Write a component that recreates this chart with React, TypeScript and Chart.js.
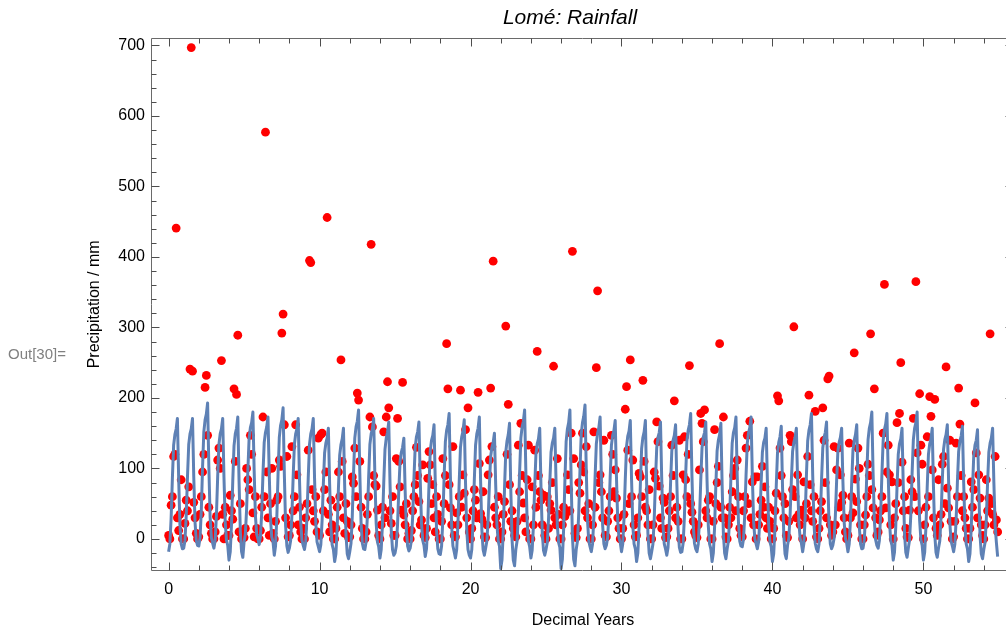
import React, { useEffect, useRef } from "react";
import { Chart, registerables } from "chart.js";

Chart.register(...registerables);

// ---------- data (decimal years since start, monthly samples) ----------
const MONTHS = 12;

// monthly precipitation, mm (one row = one year, 12 months)
const rainfall00: number[][] = [
  [5, 0, 48, 60, 117, 120, 441, 30, 12, 35, 84, 0],
  [0, 22, 55, 40, 74, 241, 697, 238, 52, 30, 8, 0],
  [3, 35, 60, 95, 120, 215, 232, 147, 45, 20, 8, 0],
  [0, 10, 32, 112, 129, 100, 253, 35, 0, 45, 20, 5],
  [5, 62, 40, 28, 213, 110, 205, 289, 10, 50, 0, 8],
  [2, 15, 100, 84, 70, 147, 120, 37, 3, 60, 15, 0],
  [0, 12, 45, 173, 60, 577, 95, 30, 5, 50, 100, 8],
  [0, 25, 55, 60, 112, 103, 292, 319, 162, 30, 117, 3],
  [5, 20, 131, 40, 60, 162, 91, 20, 45, 10, 0, 15],
  [0, 30, 50, 126, 395, 392, 70, 40, 25, 60, 10, 143],
];
const rainfall10: number[][] = [
  [5, 148, 150, 40, 70, 95, 456, 35, 10, 55, 20, 0],
  [0, 15, 45, 95, 60, 254, 110, 30, 8, 50, 25, 2],
  [3, 20, 88, 79, 129, 60, 207, 197, 110, 45, 15, 0],
  [0, 10, 35, 60, 173, 418, 159, 90, 77, 75, 41, 5],
  [0, 20, 45, 152, 30, 173, 223, 186, 40, 22, 60, 5],
  [5, 114, 171, 110, 74, 41, 222, 34, 20, 50, 0, 8],
  [0, 12, 40, 60, 77, 130, 90, 53, 20, 27, 105, 5],
  [2, 15, 86, 124, 105, 50, 77, 30, 10, 60, 35, 0],
  [0, 25, 114, 50, 90, 277, 213, 77, 44, 20, 131, 5],
  [3, 37, 20, 60, 211, 45, 91, 65, 155, 30, 186, 10],
];
const rainfall20: number[][] = [
  [0, 15, 40, 70, 55, 30, 208, 107, 36, 28, 67, 3],
  [2, 20, 91, 112, 214, 131, 394, 45, 30, 20, 60, 0],
  [0, 10, 35, 53, 302, 120, 191, 77, 25, 40, 15, 5],
  [3, 25, 133, 67, 164, 90, 51, 30, 10, 84, 133, 0],
  [0, 74, 20, 126, 45, 266, 90, 67, 55, 20, 62, 5],
  [0, 60, 15, 50, 41, 80, 245, 30, 20, 114, 35, 0],
  [0, 20, 45, 32, 37, 91, 70, 40, 150, 408, 114, 8],
  [2, 15, 80, 65, 105, 150, 95, 40, 131, 30, 50, 0],
  [0, 20, 152, 45, 243, 352, 80, 91, 67, 30, 140, 5],
  [3, 25, 40, 60, 147, 120, 67, 98, 58, 30, 15, 0],
];
const rainfall30: number[][] = [
  [0, 15, 35, 184, 216, 126, 50, 254, 60, 112, 20, 3],
  [5, 30, 93, 88, 60, 225, 110, 45, 40, 20, 70, 0],
  [0, 20, 95, 86, 166, 138, 75, 30, 15, 58, 52, 2],
  [3, 15, 40, 60, 133, 90, 196, 30, 45, 25, 140, 0],
  [0, 91, 145, 84, 60, 120, 246, 50, 38, 25, 10, 5],
  [2, 20, 98, 178, 164, 138, 183, 40, 30, 55, 60, 0],
  [0, 25, 155, 50, 80, 103, 277, 45, 30, 173, 30, 3],
  [0, 20, 45, 30, 67, 90, 100, 40, 112, 60, 15, 5],
  [3, 40, 60, 129, 147, 50, 167, 30, 81, 20, 88, 0],
  [88, 20, 35, 55, 103, 45, 74, 30, 15, 45, 25, 0],
];
const rainfall40: number[][] = [
  [0, 15, 40, 65, 203, 196, 129, 90, 60, 30, 50, 5],
  [2, 25, 147, 138, 70, 301, 60, 30, 91, 35, 20, 41],
  [0, 81, 30, 50, 117, 204, 77, 40, 25, 60, 181, 3],
  [0, 15, 40, 53, 186, 140, 80, 30, 227, 231, 20, 5],
  [10, 131, 20, 98, 129, 45, 91, 52, 62, 30, 10, 0],
  [5, 136, 30, 60, 37, 264, 85, 53, 129, 100, 20, 0],
  [0, 20, 34, 60, 106, 90, 291, 70, 44, 213, 30, 5],
  [10, 27, 40, 60, 150, 361, 44, 95, 133, 91, 20, 81],
  [0, 30, 50, 165, 80, 178, 250, 109, 40, 60, 15, 3],
  [2, 41, 84, 67, 171, 60, 365, 122, 40, 206, 133, 106],
];
const rainfall50: number[][] = [
  [0, 20, 45, 145, 60, 202, 174, 98, 30, 198, 15, 5],
  [84, 20, 35, 106, 117, 50, 244, 72, 44, 140, 25, 0],
  [3, 25, 136, 60, 214, 163, 90, 40, 60, 30, 15, 0],
  [0, 15, 81, 45, 70, 193, 122, 30, 91, 58, 20, 5],
  [0, 20, 84, 40, 58, 291, 50, 35, 20, 117, 27, 10],
];

// fitted seasonal model, mm (one row = one year, 12 months)
const fit00: number[][] = [
  [-18, -7, 29, 86, 133, 148, 156, 171, 86, 20, -7, -14],
  [-13, -2, 33, 88, 134, 149, 156, 171, 88, 24, -2, -9],
  [-10, 2, 41, 102, 152, 169, 177, 193, 102, 31, 2, -6],
  [-13, -2, 33, 88, 134, 149, 156, 171, 88, 24, -2, -9],
  [-30, -18, 21, 82, 132, 149, 157, 173, 82, 11, -18, -26],
  [-4, 7, 42, 97, 143, 158, 165, 180, 97, 33, 7, 0],
  [-8, 3, 37, 92, 137, 151, 159, 173, 92, 28, 3, -4],
  [-23, -10, 29, 92, 144, 161, 169, 186, 92, 19, -10, -19],
  [-13, -2, 33, 88, 134, 149, 156, 171, 88, 24, -2, -9],
  [-15, -4, 32, 87, 134, 149, 156, 171, 87, 22, -4, -11],
];
const fit10: number[][] = [
  [-18, -8, 26, 78, 122, 136, 143, 157, 78, 17, -8, -15],
  [-32, -21, 15, 72, 119, 134, 142, 157, 72, 6, -21, -28],
  [-18, -6, 32, 93, 143, 159, 167, 183, 93, 22, -6, -14],
  [-15, -4, 32, 87, 134, 149, 156, 171, 87, 22, -4, -11],
  [-27, -15, 21, 79, 127, 143, 151, 166, 79, 12, -15, -23],
  [-20, -10, 21, 70, 110, 123, 130, 143, 70, 13, -10, -17],
  [-13, -2, 32, 85, 130, 145, 152, 166, 85, 23, -2, -9],
  [-25, -14, 22, 78, 125, 140, 147, 162, 78, 12, -14, -21],
  [-22, -10, 28, 88, 138, 154, 162, 178, 88, 18, -10, -18],
  [-27, -15, 22, 81, 130, 145, 153, 169, 81, 12, -15, -23],
];
const fit20: number[][] = [
  [-27, -15, 23, 83, 133, 149, 157, 173, 83, 13, -15, -23],
  [-13, -3, 28, 77, 117, 130, 137, 150, 77, 20, -3, -10],
  [-42, -30, 10, 71, 123, 139, 148, 164, 71, -1, -30, -38],
  [-15, -3, 35, 94, 143, 159, 167, 183, 94, 25, -3, -11],
  [-27, -16, 19, 74, 120, 135, 142, 157, 74, 10, -16, -23],
  [-15, -5, 28, 80, 123, 136, 143, 157, 80, 19, -5, -12],
  [-42, -29, 14, 82, 138, 156, 165, 183, 82, 3, -29, -38],
  [-15, -3, 36, 98, 149, 165, 174, 190, 98, 26, -3, -11],
  [-18, -7, 30, 87, 135, 150, 158, 173, 87, 20, -7, -14],
  [-9, 2, 35, 88, 133, 147, 154, 168, 88, 26, 2, -5],
];
const fit30: number[][] = [
  [-18, -7, 29, 84, 131, 146, 153, 168, 84, 19, -7, -14],
  [-32, -20, 18, 78, 128, 144, 152, 168, 78, 8, -20, -28],
  [-18, -7, 28, 83, 129, 144, 151, 166, 83, 19, -7, -14],
  [-23, -12, 23, 79, 125, 140, 147, 162, 79, 14, -12, -19],
  [-18, -6, 31, 90, 139, 154, 162, 178, 90, 21, -6, -14],
  [-18, -7, 28, 83, 129, 144, 151, 166, 83, 19, -7, -14],
  [-32, -20, 17, 76, 125, 140, 148, 164, 76, 7, -20, -28],
  [-14, -3, 33, 89, 136, 151, 158, 173, 89, 23, -3, -10],
  [-11, 0, 35, 90, 136, 151, 158, 173, 90, 26, 0, -7],
  [-14, -4, 29, 80, 123, 137, 143, 157, 80, 20, -4, -11],
];
const fit40: number[][] = [
  [-32, -21, 16, 74, 122, 137, 145, 160, 74, 6, -21, -28],
  [-9, 1, 33, 82, 124, 137, 144, 157, 82, 24, 1, -6],
  [-18, -6, 31, 90, 139, 154, 162, 178, 90, 21, -6, -14],
  [-18, -7, 28, 83, 129, 144, 151, 166, 83, 19, -7, -14],
  [-9, 1, 33, 82, 124, 137, 144, 157, 82, 24, 1, -6],
  [-18, -7, 27, 81, 126, 140, 148, 162, 81, 18, -7, -14],
  [-13, -1, 35, 93, 141, 157, 165, 180, 93, 26, -1, -9],
  [-13, -2, 35, 92, 140, 155, 163, 178, 92, 25, -2, -9],
  [-30, -19, 17, 73, 120, 135, 142, 157, 73, 7, -19, -26],
  [-13, -1, 35, 93, 141, 157, 165, 180, 93, 26, -1, -9],
];
const fit50: number[][] = [
  [-30, -19, 17, 73, 120, 135, 142, 157, 73, 7, -19, -26],
  [-13, -3, 31, 83, 127, 141, 148, 162, 83, 22, -3, -10],
  [-18, -7, 27, 80, 124, 139, 146, 160, 80, 18, -7, -14],
  [-32, -21, 15, 71, 118, 133, 140, 155, 71, 5, -21, -28],
  [-15, -5, 28, 80, 123, 136, 143, 157, 80, 19, -5, -25],
];

// axis ticks
const xMajorTicks = [0, 10, 20, 30, 40, 50];
const yMajorTicks = [0, 100, 200, 300, 400, 500, 600, 700];
const X_MINOR_STEP = 2;
const Y_MINOR_STEP = 20;
const X_RANGE = [-1.1, 56];
const Y_RANGE = [-45, 710.6];

// ---------- styling ----------
const FONT = '"Liberation Sans", Arial, Helvetica, sans-serif';
const LINE_COLOR = "#5E81B5";
const POINT_COLOR = "#FF0000";
const FRAME_COLOR = "#6a6a6a";
const TICK_COLOR = "#4d4d4d";

const toPoints = (rows: number[][]) =>
  rows.map((row, y) => row.map((v, m) => ({ x: y + m / MONTHS, y: v }))).flat();

const rainRows = [...rainfall00, ...rainfall10, ...rainfall20, ...rainfall30, ...rainfall40, ...rainfall50];
const fitRows = [...fit00, ...fit10, ...fit20, ...fit30, ...fit40, ...fit50];

const frameAndTicks = {
  id: "frameAndTicks",
  afterDatasetsDraw(chart: any) {
    const { ctx, chartArea } = chart;
    const xs = chart.scales.x;
    const ys = chart.scales.y;
    const L = Math.round(chartArea.left) - 0.5;
    const R = Math.round(chartArea.right) - 0.5;
    const T = Math.round(chartArea.top) + 0.5;
    const B = Math.round(chartArea.bottom) - 0.5;
    ctx.save();
    ctx.lineWidth = 1;
    ctx.strokeStyle = FRAME_COLOR;
    ctx.beginPath();
    ctx.rect(L, T, R - L, B - T);
    ctx.stroke();

    ctx.strokeStyle = TICK_COLOR;
    ctx.beginPath();
    for (let v = Math.ceil(xs.min / X_MINOR_STEP) * X_MINOR_STEP; v <= xs.max; v += X_MINOR_STEP) {
      const px = Math.round(xs.getPixelForValue(v)) + 0.5;
      if (px <= L || px >= R) continue;
      const len = xMajorTicks.includes(v) ? 8 : 5;
      ctx.moveTo(px, B);
      ctx.lineTo(px, B - len);
      ctx.moveTo(px, T);
      ctx.lineTo(px, T + len);
    }
    for (let v = Math.ceil(ys.min / Y_MINOR_STEP) * Y_MINOR_STEP; v <= ys.max; v += Y_MINOR_STEP) {
      const py = Math.round(ys.getPixelForValue(v)) + 0.5;
      if (py <= T || py >= B) continue;
      const len = yMajorTicks.includes(v) ? 8 : 5;
      ctx.moveTo(L, py);
      ctx.lineTo(L + len, py);
      ctx.moveTo(R, py);
      ctx.lineTo(R - len, py);
    }
    ctx.stroke();
    ctx.restore();
  },
  afterDraw(chart: any) {
    const { ctx } = chart;
    ctx.save();
    ctx.fillStyle = "#000";
    ctx.font = `italic 21px ${FONT}`;
    ctx.textAlign = "center";
    ctx.textBaseline = "middle";
    ctx.fillText("Lomé: Rainfall", 570, 18);

    ctx.fillStyle = "#808080";
    ctx.font = `15px ${FONT}`;
    ctx.textAlign = "left";
    ctx.fillText("Out[30]=", 8, 355);
    ctx.restore();
  },
};

export default function App() {
  const canvasRef = useRef<HTMLCanvasElement | null>(null);

  useEffect(() => {
    const canvas = canvasRef.current;
    if (!canvas) return;
    const chart = new Chart(canvas, {
      type: "scatter",
      data: {
        datasets: [
          {
            label: "fit",
            data: toPoints(fitRows),
            showLine: true,
            borderColor: LINE_COLOR,
            borderWidth: 3,
            pointRadius: 0,
            pointHoverRadius: 0,
            tension: 0,
            fill: false,
            borderJoinStyle: "round",
          } as any,
          {
            label: "rainfall",
            data: toPoints(rainRows),
            showLine: false,
            pointRadius: 4.4,
            pointHoverRadius: 4.4,
            backgroundColor: POINT_COLOR,
            borderColor: POINT_COLOR,
            borderWidth: 0,
            pointBorderWidth: 0,
          } as any,
        ],
      },
      options: {
        animation: false,
        responsive: false,
        devicePixelRatio: 1,
        events: [],
        layout: { padding: { top: 38, right: 6, left: 0, bottom: 0 } },
        plugins: {
          legend: { display: false },
          tooltip: { enabled: false },
          title: { display: false },
        },
        scales: {
          x: {
            type: "linear",
            position: "bottom",
            min: X_RANGE[0],
            max: X_RANGE[1],
            grid: { display: false, drawTicks: false },
            border: { display: false },
            afterBuildTicks: (s: any) => {
              s.ticks = xMajorTicks.map((v) => ({ value: v }));
            },
            afterFit: (s: any) => {
              s.height = 59.3;
            },
            ticks: {
              font: { family: FONT, size: 16 },
              color: "#000",
              padding: 9,
              maxRotation: 0,
              autoSkip: false,
            },
            title: {
              display: true,
              text: "Decimal Years",
              font: { family: FONT, size: 16 },
              color: "#000",
              padding: { top: 0, bottom: 0 },
            },
          },
          y: {
            type: "linear",
            position: "left",
            min: Y_RANGE[0],
            max: Y_RANGE[1],
            grid: { display: false, drawTicks: false },
            border: { display: false },
            afterBuildTicks: (s: any) => {
              s.ticks = yMajorTicks.map((v) => ({ value: v }));
            },
            afterFit: (s: any) => {
              s.width = 152;
            },
            ticks: {
              font: { family: FONT, size: 16 },
              color: "#000",
              padding: 7,
              autoSkip: false,
            },
            title: {
              display: true,
              text: "Precipitation / mm",
              font: { family: FONT, size: 16 },
              color: "#000",
              padding: { top: 85, bottom: 0 },
            },
          },
        },
      } as any,
      plugins: [frameAndTicks],
    });
    return () => chart.destroy();
  }, []);

  return (
    <div
      style={{
        position: "fixed",
        left: 0,
        top: 0,
        width: 1006,
        height: 630,
        overflow: "hidden",
        background: "#fff",
      }}
    >
      <canvas ref={canvasRef} width={1020} height={630} style={{ display: "block", width: 1020, height: 630 }} />
    </div>
  );
}
